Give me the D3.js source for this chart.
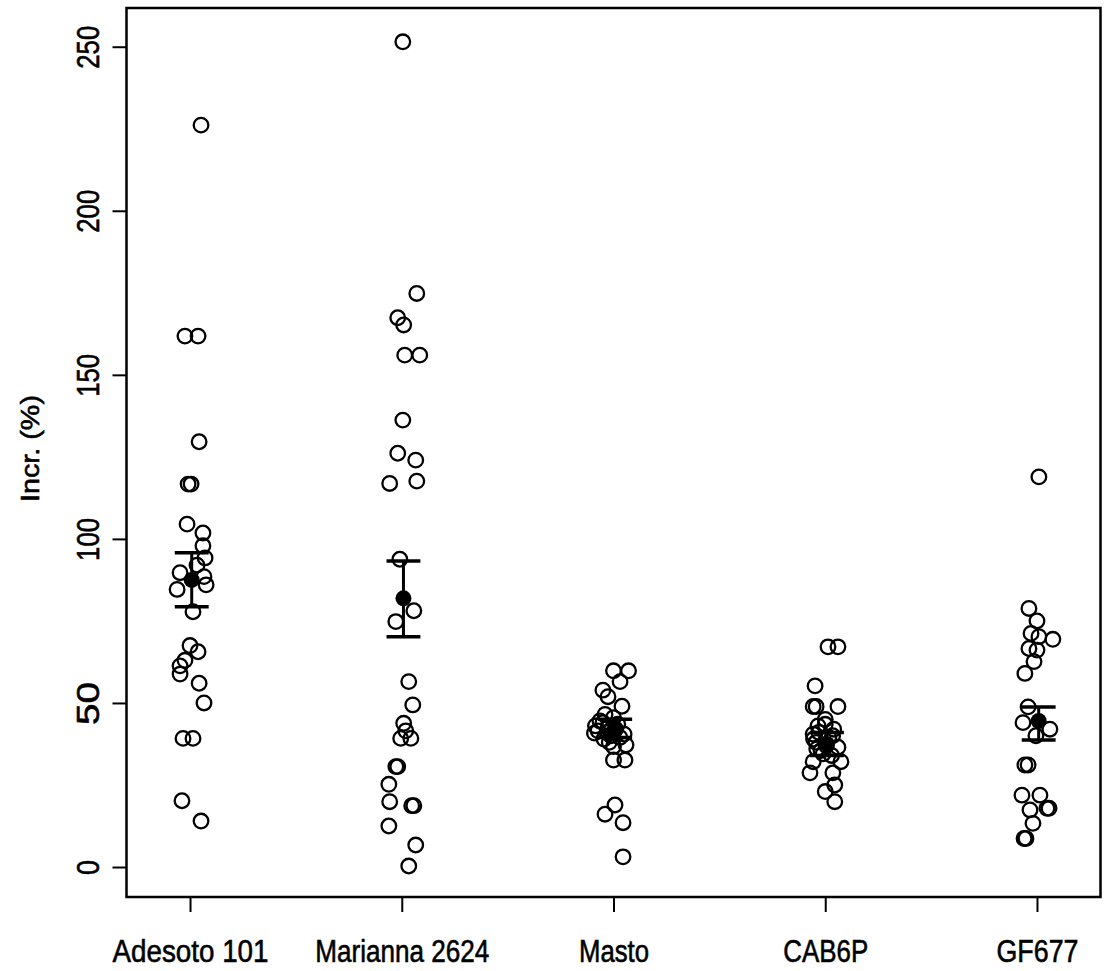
<!DOCTYPE html>
<html>
<head>
<meta charset="utf-8">
<script src="https://cdn.jsdelivr.net/npm/d3@7"></script>
<style>
  body { margin: 0; background: #fff; }
  text { font-family: "Liberation Sans", Arial, sans-serif; fill: #000; stroke: #000; stroke-width: 0.6px; }
</style>
</head>
<body>
<div id="chart"></div>
<script>
  var categories = ['Adesoto 101', 'Marianna 2624', 'Masto', 'CAB6P', 'GF677'];
  var yTicks = [0, 50, 100, 150, 200, 250];

  // observed values per rootstock, with the horizontal jitter (category units)
  var adesotoValues = [226.1, 161.8, 161.8, 129.6, 116.7, 116.7, 104.5, 101.8, 97.9, 94.2, 92, 89.7, 88.5, 86, 84.6,
    77.8, 67.5, 65.6, 63, 61.3, 58.8, 56, 50, 39.2, 39.2, 20.2, 14];
  var adesotoJitter = [0.052, -0.024, 0.038, 0.043, -0.009, 0.005, -0.014, 0.061, 0.061, 0.071, 0.033, -0.047, 0.066, 0.076, -0.061,
    0.014, 0, 0.038, -0.024, -0.047, -0.047, 0.043, 0.066, -0.033, 0.014, -0.038, 0.052];

  var mariannaValues = [251.5, 174.8, 167.4, 165.2, 156, 156, 136.2, 126.1, 124, 116.9, 117.6, 93.8, 78.1, 74.8, 56.5,
    49.4, 43.8, 41.5, 39.2, 39.2, 30.6, 30.6, 25.2, 19.9, 18.7, 18.7, 12.5, 6.7, 0.3];
  var mariannaJitter = [0.005, 0.071, -0.019, 0.009, 0.014, 0.085, 0.005, -0.019, 0.066, -0.057, 0.071, -0.009, 0.057, -0.028, 0.033,
    0.052, 0.009, 0.019, -0.005, 0.043, -0.028, -0.019, -0.061, -0.057, 0.047, 0.057, -0.061, 0.066, 0.033];

  var mastoValues = [59.8, 59.8, 56.5, 53.9, 51.9, 49, 46.5, 45.5, 44.5, 43.5, 42.5, 41.5, 40.5, 40, 39,
    37.2, 36.7, 32.6, 32.6, 18.9, 16.1, 13.5, 3.1, 44, 42, 41, 39.5, 38, 43, 40.8];
  var mastoJitter = [0, 0.071, 0.031, -0.05, -0.026, 0.04, -0.04, 0, -0.064, 0.02, -0.026, -0.073, 0.05, -0.012, -0.045,
    0.059, 0, 0, 0.054, 0.007, -0.04, 0.045, 0.045, -0.05, 0.01, -0.03, 0.03, -0.02, -0.085, -0.09];

  var cabValues = [67.1, 67.1, 55.2, 48.9, 48.9, 48.9, 45, 43, 42, 40.5, 39.5, 38, 36.5, 35.5, 34,
    32.1, 32.1, 28.7, 28.7, 25, 23, 19.9, 41, 39, 37, 36, 40, 34.5, 43.5];
  var cabJitter = [0.013, 0.06, -0.048, -0.057, -0.043, 0.06, 0, -0.034, 0.04, -0.057, 0.017, -0.043, 0.06, -0.02, 0.03,
    -0.057, 0.074, -0.072, 0.036, 0.045, 0, 0.045, -0.03, -0.055, 0.005, -0.04, 0.035, -0.01, 0];

  var gfValues = [118.9, 78.8, 75, 71.2, 70.2, 69.4, 66.6, 66.1, 62.6, 59, 48.8, 44, 42, 40, 31.1,
    31.1, 21.9, 21.9, 17.9, 17.9, 17.4, 13.3, 8.7, 8.7];
  var gfJitter = [0.009, -0.038, 0, -0.028, 0.009, 0.075, -0.038, 0, -0.014, -0.057, -0.042, -0.066, 0.061, -0.005, -0.057,
    -0.042, -0.071, 0.014, 0.047, 0.057, -0.033, -0.019, -0.061, -0.052];

  // group means with lower / upper error bar ends
  var means = [87.5, 81.9, 42, 37.5, 44.5];
  var lowers = [79.3, 70.2, 39.5, 34, 38.7];
  var uppers = [95.8, 93.3, 45, 41, 48.8];

(function() {
  'use strict';

  var groupValues = [adesotoValues, mariannaValues, mastoValues, cabValues, gfValues];
  var groupJitter = [adesotoJitter, mariannaJitter, mastoJitter, cabJitter, gfJitter];
  var labelWidths = [156, 174, 70, 85, 82];

  var w = 1105;
  var h = 971;
  var padLeft = 126.5, padRight = 1100.5, padTop = 8, padBottom = 897;

  var svg = d3.select('#chart').append('svg').attr('width', w).attr('height', h);

  var x = d3.scaleLinear().domain([0.7, 5.3]).range([padLeft, padRight]);
  var y = d3.scaleLinear().domain([-9.14, 261.8]).range([padBottom, padTop]);

  var points = [];
  groupValues.forEach(function(vals, g) {
    vals.forEach(function(v, i) {
      points.push({ pos: g + 1 + groupJitter[g][i], value: v });
    });
  });

  // y axis with rotated labels
  var yAxis = svg.append('g')
    .attr('transform', 'translate(' + padLeft + ',0)')
    .call(d3.axisLeft(y).tickValues(yTicks).tickSize(14).tickFormat(d3.format('d')));
  yAxis.select('.domain').remove();
  yAxis.selectAll('line').attr('stroke', '#000').attr('stroke-width', 2);
  yAxis.selectAll('text')
    .attr('transform', 'rotate(-90)')
    .attr('x', 0)
    .attr('y', -28)
    .attr('dy', 0)
    .attr('text-anchor', 'middle')
    .attr('font-size', 32)
    .attr('lengthAdjust', 'spacingAndGlyphs')
    .attr('textLength', function(d) { return d == 0 ? 15 : 43; });

  // x axis
  var xAxis = svg.append('g')
    .attr('transform', 'translate(0,' + padBottom + ')')
    .call(d3.axisBottom(x).tickValues([1, 2, 3, 4, 5]).tickSize(15).tickFormat(function(d) {
      return categories[d - 1];
    }));
  xAxis.select('.domain').remove();
  xAxis.selectAll('line').attr('stroke', '#000').attr('stroke-width', 2);
  xAxis.selectAll('text')
    .attr('y', 65)
    .attr('dy', 0)
    .attr('font-size', 32)
    .attr('lengthAdjust', 'spacingAndGlyphs')
    .attr('textLength', function(d) { return labelWidths[d - 1]; });

  // axis title
  svg.append('text')
    .attr('transform', 'translate(39,' + ((395 + 502) / 2) + ') rotate(-90)')
    .attr('text-anchor', 'middle')
    .attr('font-size', 26)
    .attr('lengthAdjust', 'spacingAndGlyphs')
    .attr('textLength', 107)
    .text('Incr. (%)');

  // plot box
  svg.append('rect')
    .attr('x', padLeft)
    .attr('y', padTop)
    .attr('width', padRight - padLeft)
    .attr('height', padBottom - padTop)
    .attr('fill', 'none')
    .attr('stroke', '#000')
    .attr('stroke-width', 2.5);

  // open circles
  svg.append('g').selectAll('circle')
    .data(points)
    .enter()
    .append('circle')
    .attr('cx', function(d) { return x(d.pos); })
    .attr('cy', function(d) { return y(d.value); })
    .attr('r', 7.3)
    .attr('fill', 'none')
    .attr('stroke', '#000')
    .attr('stroke-width', 2.3);

  // means and error bars
  var capHalf = 0.08;
  var bars = svg.append('g').selectAll('g')
    .data(means)
    .enter()
    .append('g');

  bars.append('line')
    .attr('x1', function(d, i) { return x(i + 1.008); })
    .attr('x2', function(d, i) { return x(i + 1.008); })
    .attr('y1', function(d, i) { return y(lowers[i]); })
    .attr('y2', function(d, i) { return y(uppers[i]); })
    .attr('stroke', '#000')
    .attr('stroke-width', 3);

  bars.append('line')
    .attr('x1', function(d, i) { return x(i + 1.008 - capHalf); })
    .attr('x2', function(d, i) { return x(i + 1.008 + capHalf); })
    .attr('y1', function(d, i) { return y(uppers[i]); })
    .attr('y2', function(d, i) { return y(uppers[i]); })
    .attr('stroke', '#000')
    .attr('stroke-width', 3.5);

  bars.append('line')
    .attr('x1', function(d, i) { return x(i + 1.008 - capHalf); })
    .attr('x2', function(d, i) { return x(i + 1.008 + capHalf); })
    .attr('y1', function(d, i) { return y(lowers[i]); })
    .attr('y2', function(d, i) { return y(lowers[i]); })
    .attr('stroke', '#000')
    .attr('stroke-width', 3.5);

  bars.append('circle')
    .attr('cx', function(d, i) { return x(i + 1.008); })
    .attr('cy', function(d) { return y(d); })
    .attr('r', 8)
    .attr('fill', '#000');
})();
</script>
</body>
</html>
